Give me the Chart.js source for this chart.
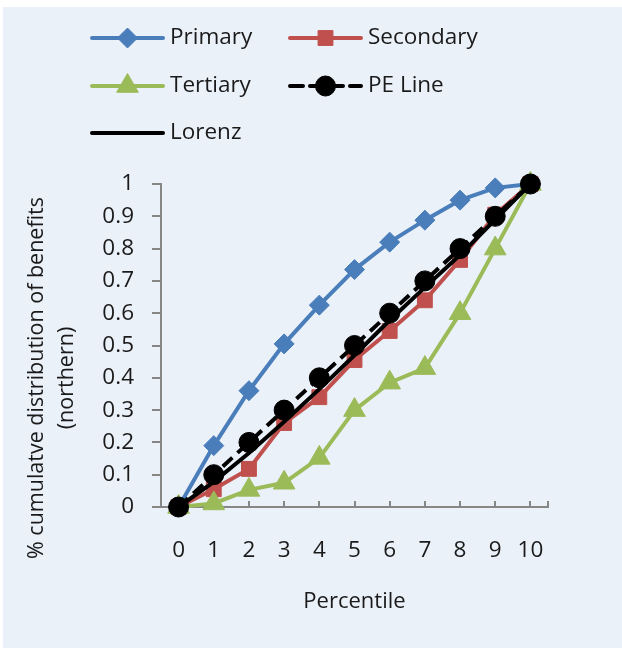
<!DOCTYPE html>
<html>
<head>
<meta charset="utf-8">
<script src="https://cdn.jsdelivr.net/npm/chart.js@4.4.1/dist/chart.umd.min.js"></script>
<style>
  html, body { margin: 0; padding: 0; background: #fff; }
  canvas { display: block; }
</style>
</head>
<body>
<canvas id="chart" width="622" height="649"></canvas>
<script>
// data
const percentiles = ['0', '1', '2', '3', '4', '5', '6', '7', '8', '9', '10'];
const primary   = [0, 0.19, 0.36, 0.505, 0.625, 0.735, 0.82, 0.888, 0.95, 0.988, 1];
const secondary = [0, 0.055, 0.118, 0.26, 0.34, 0.455, 0.545, 0.64, 0.765, 0.905, 1];
const tertiary  = [0, 0.011, 0.053, 0.075, 0.152, 0.3, 0.385, 0.43, 0.6, 0.8, 1];
const peLine    = [0, 0.1, 0.2, 0.3, 0.4, 0.5, 0.6, 0.7, 0.8, 0.9, 1];
const lorenz    = [0, 0.078, 0.167, 0.264, 0.365, 0.47, 0.578, 0.68, 0.78, 0.89, 1];
const yTitle = ['% cumulatve distribution of benefits', '(northern)'];
const xTitle = 'Percentile';

const FONT = '"Open Sans", "Noto Sans", sans-serif';
const TEXT = '#1a1a1a';
const AXIS = '#868686';

const legendSlots = [
  { ds: 0, x: 92, y: 38 },
  { ds: 1, x: 290, y: 38 },
  { ds: 2, x: 92, y: 86 },
  { ds: 3, x: 290, y: 86 },
  { ds: 4, x: 92, y: 133 }
];

const panelPlugin = {
  id: 'panel',
  beforeDraw(chart) {
    const c = chart.ctx;
    c.save();
    c.fillStyle = '#ffffff';
    c.fillRect(0, 0, chart.width, chart.height);
    c.fillStyle = '#ebf1f9';
    c.fillRect(3, 7, chart.width - 3, chart.height - 8);
    c.restore();
  },
  beforeDatasetsDraw(chart) {
    // small inward tick marks on the x axis
    const c = chart.ctx;
    const x = chart.scales.x;
    const yb = chart.chartArea.bottom;
    c.save();
    c.strokeStyle = AXIS;
    c.lineWidth = 2;
    const xs = x.ticks.map((t, i) => x.getPixelForTick(i));
    xs.push(chart.chartArea.right);
    c.beginPath();
    xs.forEach(px => {
      c.moveTo(Math.round(px), yb);
      c.lineTo(Math.round(px), yb - 6);
    });
    c.stroke();
    c.restore();
  },
  afterDraw(chart) {
    const c = chart.ctx;
    c.save();
    // axis titles
    c.fillStyle = TEXT;
    c.font = '22px ' + FONT;
    c.textAlign = 'center';
    c.textBaseline = 'middle';
    c.fillText(xTitle, (chart.chartArea.left + chart.chartArea.right) / 2, 602);
    c.textBaseline = 'alphabetic';
    c.font = '21.5px ' + FONT;
    [43, 73].forEach((bx, i) => {
      c.save();
      c.translate(bx, 378);
      c.rotate(-Math.PI / 2);
      c.fillText(yTitle[i], 0, 0);
      c.restore();
    });

    // legend, two columns
    legendSlots.forEach(slot => {
      const ds = chart.data.datasets[slot.ds];
      const x0 = slot.x, x1 = slot.x + 71, y = slot.y;
      c.save();
      c.strokeStyle = ds.borderColor;
      c.lineWidth = ds.borderWidth;
      c.lineCap = 'round';
      c.setLineDash(ds.borderDash || []);
      c.beginPath();
      c.moveTo(x0, y);
      c.lineTo(x1, y);
      c.stroke();
      c.restore();
      if (ds.pointRadius > 0) {
        c.save();
        c.fillStyle = ds.backgroundColor;
        c.strokeStyle = ds.borderColor;
        Chart.helpers.drawPoint(c, {
          pointStyle: ds.pointStyle,
          radius: ds.pointRadius,
          rotation: 0,
          borderWidth: 1
        }, (x0 + x1) / 2, y);
        c.restore();
      }
      c.fillStyle = TEXT;
      c.font = '22.5px ' + FONT;
      c.textAlign = 'left';
      c.textBaseline = 'middle';
      c.fillText(ds.label, x1 + 7, y);
    });
    c.restore();
  }
};

function series(label, data, color, style, radius, order, dash) {
  return {
    label: label,
    data: data,
    borderColor: color,
    backgroundColor: color,
    borderWidth: 4,
    borderDash: dash,
    pointStyle: style,
    pointRadius: radius,
    pointHoverRadius: radius,
    pointBorderWidth: 1,
    pointBackgroundColor: color,
    pointBorderColor: color,
    tension: 0,
    clip: false,
    order: order
  };
}

const ctx = document.getElementById('chart');
new Chart(ctx, {
  type: 'line',
  data: {
    labels: percentiles,
    datasets: [
      series('Primary', primary, '#4a7ebb', 'rectRot', 10, 5),
      series('Secondary', secondary, '#c0504d', 'rect', 10.5, 4),
      series('Tertiary', tertiary, '#9bbb59', 'triangle', 12.5, 3),
      series('PE Line', peLine, '#000000', 'circle', 10, 1, [13, 7]),
      series('Lorenz', lorenz, '#000000', 'circle', 0, 2)
    ]
  },
  options: {
    responsive: false,
    animation: false,
    devicePixelRatio: 1,
    layout: { padding: { top: 184, right: 74, bottom: 0, left: 0 } },
    plugins: {
      legend: { display: false },
      tooltip: { enabled: false }
    },
    scales: {
      x: {
        type: 'category',
        offset: true,
        grid: { drawOnChartArea: false, drawTicks: false },
        border: { color: AXIS, width: 2 },
        ticks: { color: TEXT, font: { family: FONT, size: 22.5 }, padding: 30, maxRotation: 0 },
        afterFit(scale) { scale.height = 142; }
      },
      y: {
        min: 0,
        max: 1,
        grid: { drawOnChartArea: false, drawTicks: true, tickLength: 9, color: AXIS, lineWidth: 2 },
        border: { color: AXIS, width: 2 },
        ticks: {
          stepSize: 0.1,
          color: TEXT,
          padding: 18,
          font: { family: FONT, size: 22.5 },
          callback: v => String(Number(v.toFixed(1)))
        },
        afterFit(scale) { scale.width = 161; }
      }
    }
  },
  plugins: [panelPlugin]
});
</script>
</body>
</html>
